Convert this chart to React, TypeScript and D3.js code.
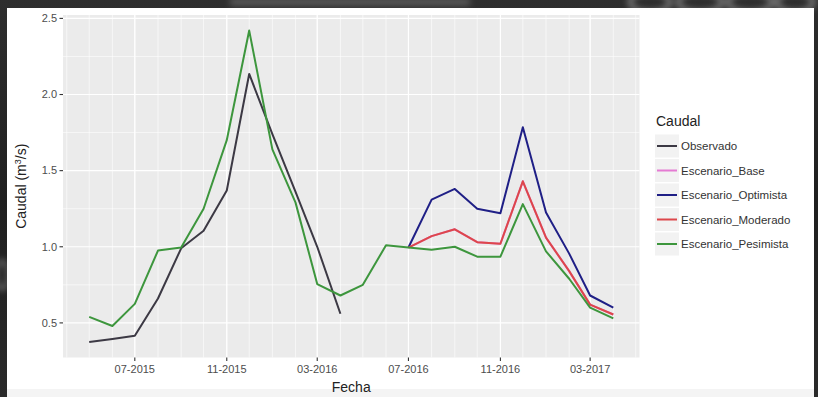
import React from "react";
import * as d3 from "d3";

// Monthly discharge series (m³/s)
const observedMonths = ["2015-05","2015-06","2015-07","2015-08","2015-09","2015-10","2015-11","2015-12","2016-01","2016-02","2016-03","2016-04"];
const observedValues = [0.375,0.395,0.415,0.66,0.99,1.105,1.37,2.135,1.74,1.36,1.0,0.56];

const pesimistaMonths = ["2015-05","2015-06","2015-07","2015-08","2015-09","2015-10","2015-11","2015-12","2016-01","2016-02","2016-03","2016-04","2016-05","2016-06","2016-07","2016-08","2016-09","2016-10","2016-11","2016-12","2017-01","2017-02","2017-03","2017-04"];
const pesimistaValues = [0.54,0.48,0.625,0.975,0.995,1.25,1.7,2.42,1.64,1.29,0.755,0.68,0.75,1.01,0.995,0.98,1.0,0.935,0.935,1.28,0.97,0.79,0.6,0.53];

const scenarioMonths = ["2016-07","2016-08","2016-09","2016-10","2016-11","2016-12","2017-01","2017-02","2017-03","2017-04"];
const baseValues = [0.995,1.07,1.115,1.03,1.02,1.43,1.06,0.84,0.62,0.555];
const optimistaValues = [0.995,1.31,1.38,1.25,1.22,1.785,1.225,0.955,0.68,0.6];
const moderadoValues = [0.995,1.07,1.115,1.03,1.02,1.43,1.06,0.84,0.62,0.555];

const seriesNames = ["Observado","Escenario_Base","Escenario_Optimista","Escenario_Moderado","Escenario_Pesimista"];
const seriesColors = ["#3c3944","#e57bd3","#1f1f86","#dd474b","#3d963d"];

const yTicks = [0.5, 1.0, 1.5, 2.0, 2.5];
const yMinorTicks = [0.75, 1.25, 1.75, 2.25];
const xTickMonths = ["2015-07","2015-11","2016-03","2016-07","2016-11","2017-03"];

const parseMonth = d3.timeParse("%Y-%m");
const fmtMonth = d3.timeFormat("%m-%Y");

type Pt = { date: Date; value: number };
const toPoints = (months: string[], values: number[]): Pt[] =>
  months.map((m, i) => ({ date: parseMonth(m) as Date, value: values[i] }));

const seriesData: Pt[][] = [
  toPoints(observedMonths, observedValues),
  toPoints(scenarioMonths, baseValues),
  toPoints(scenarioMonths, optimistaValues),
  toPoints(scenarioMonths, moderadoValues),
  toPoints(pesimistaMonths, pesimistaValues),
];

const W = 818;
const H = 397;
const panel = { left: 63, right: 639.5, top: 15, bottom: 357.5 };
const FONT = "'Liberation Sans', Arial, Helvetica, sans-serif";

export default function App() {
  const all = seriesData.flat();
  const [dMin, dMax] = d3.extent(all, (d) => d.date.getTime()) as [number, number];
  const dPad = (dMax - dMin) * 0.05;
  const x = d3
    .scaleTime()
    .domain([new Date(dMin - dPad), new Date(dMax + dPad)])
    .range([panel.left, panel.right]);

  const [vMin, vMax] = d3.extent(all, (d) => d.value) as [number, number];
  const vPad = (vMax - vMin) * 0.05;
  const y = d3
    .scaleLinear()
    .domain([vMin - vPad, vMax + vPad])
    .range([panel.bottom, panel.top]);

  const line = d3
    .line<Pt>()
    .x((d) => x(d.date))
    .y((d) => y(d.value));

  const minorX = d3.timeMonth.range(x.domain()[0], x.domain()[1]);
  const majorX = xTickMonths.map((m) => parseMonth(m) as Date);

  const legendX = 655;
  const legendRows = [146, 170.5, 195, 219.5, 244];

  return (
    <div style={{ position: "fixed", left: 0, top: 0, width: W, height: H }}>
      <svg width={W} height={H} style={{ display: "block" }}>
        <defs>
          <filter id="soft" x="-50%" y="-50%" width="200%" height="200%">
            <feGaussianBlur stdDeviation="3" />
          </filter>
          <linearGradient id="edge" x1="0" y1="0" x2="0" y2="1">
            <stop offset="0" stopColor="#2e2e2e" />
            <stop offset="0.5" stopColor="#1f1f1f" />
            <stop offset="1" stopColor="#2a2a2a" />
          </linearGradient>
        </defs>

        {/* dark surround */}
        <rect x={0} y={0} width={W} height={H} fill="url(#edge)" />
        <g filter="url(#soft)" opacity={0.55}>
          <ellipse cx={650} cy={2} rx={20} ry={10} fill="none" stroke="#cfcfcf" strokeWidth={4} />
          <ellipse cx={700} cy={2} rx={22} ry={10} fill="none" stroke="#cfcfcf" strokeWidth={4} />
          <ellipse cx={750} cy={2} rx={22} ry={10} fill="none" stroke="#cfcfcf" strokeWidth={4} />
          <ellipse cx={795} cy={2} rx={18} ry={10} fill="none" stroke="#cfcfcf" strokeWidth={4} />
          <rect x={230} y={-2} width={240} height={8} fill="#7a7a7a" />
          <ellipse cx={2} cy={275} rx={6} ry={14} fill="none" stroke="#bdbdbd" strokeWidth={3} />
        </g>

        {/* white plot canvas */}
        <rect x={7} y={8} width={807} height={H - 8} fill="#ffffff" />
        <rect x={7} y={389} width={807} height={H - 389} fill="#f4f4f4" />

        {/* panel */}
        <rect
          x={panel.left}
          y={panel.top}
          width={panel.right - panel.left}
          height={panel.bottom - panel.top}
          fill="#ebebeb"
        />
        <g stroke="#ffffff">
          {yMinorTicks.map((v) => (
            <line key={"ym" + v} x1={panel.left} x2={panel.right} y1={y(v)} y2={y(v)} strokeWidth={0.6} />
          ))}
          {minorX.map((d) => (
            <line key={"xm" + d.getTime()} x1={x(d)} x2={x(d)} y1={panel.top} y2={panel.bottom} strokeWidth={0.6} />
          ))}
          {yTicks.map((v) => (
            <line key={"yM" + v} x1={panel.left} x2={panel.right} y1={y(v)} y2={y(v)} strokeWidth={1.2} />
          ))}
          {majorX.map((d) => (
            <line key={"xM" + d.getTime()} x1={x(d)} x2={x(d)} y1={panel.top} y2={panel.bottom} strokeWidth={1.2} />
          ))}
        </g>

        {/* series */}
        <g fill="none" strokeWidth={2} strokeLinejoin="round" strokeLinecap="butt">
          {seriesData.map((s, i) => (
            <path key={seriesNames[i]} d={line(s) || ""} stroke={seriesColors[i]} />
          ))}
        </g>

        {/* y axis */}
        <g fontFamily={FONT} fontSize={11} fill="#4d4d4d">
          {yTicks.map((v) => (
            <g key={"yt" + v}>
              <line x1={panel.left - 3.5} x2={panel.left} y1={y(v)} y2={y(v)} stroke="#333" strokeWidth={1.1} />
              <text x={panel.left - 6} y={y(v)} dy="0.35em" textAnchor="end">
                {d3.format(".1f")(v)}
              </text>
            </g>
          ))}
        </g>

        {/* x axis */}
        <g fontFamily={FONT} fontSize={11} fill="#4d4d4d">
          {majorX.map((d) => (
            <g key={"xt" + d.getTime()}>
              <line x1={x(d)} x2={x(d)} y1={panel.bottom} y2={panel.bottom + 3.5} stroke="#333" strokeWidth={1.1} />
              <text x={x(d)} y={panel.bottom + 15.5} textAnchor="middle">
                {fmtMonth(d)}
              </text>
            </g>
          ))}
        </g>

        {/* axis titles */}
        <text
          x={(panel.left + panel.right) / 2}
          y={392}
          textAnchor="middle"
          fontFamily={FONT}
          fontSize={14}
          fill="#222"
        >
          Fecha
        </text>
        <text
          transform={`translate(26,${(panel.top + panel.bottom) / 2}) rotate(-90)`}
          textAnchor="middle"
          fontFamily={FONT}
          fontSize={14}
          fill="#222"
        >
          Caudal (m
          <tspan fontSize={9} dy={-5}>3</tspan>
          <tspan dy={5}>/s)</tspan>
        </text>

        {/* legend */}
        <g fontFamily={FONT}>
          <text x={legendX + 1} y={126} fontSize={14} fill="#222">
            Caudal
          </text>
          {seriesNames.map((name, i) => (
            <g key={"lg" + name}>
              <rect x={legendX} y={legendRows[i] - 11.5} width={24} height={23} fill="#f2f2f2" />
              <line
                x1={legendX + 2}
                x2={legendX + 22}
                y1={legendRows[i]}
                y2={legendRows[i]}
                stroke={seriesColors[i]}
                strokeWidth={2}
              />
              <text x={legendX + 26} y={legendRows[i]} dy="0.35em" fontSize={11.5} fill="#333">
                {name}
              </text>
            </g>
          ))}
        </g>
      </svg>
    </div>
  );
}
